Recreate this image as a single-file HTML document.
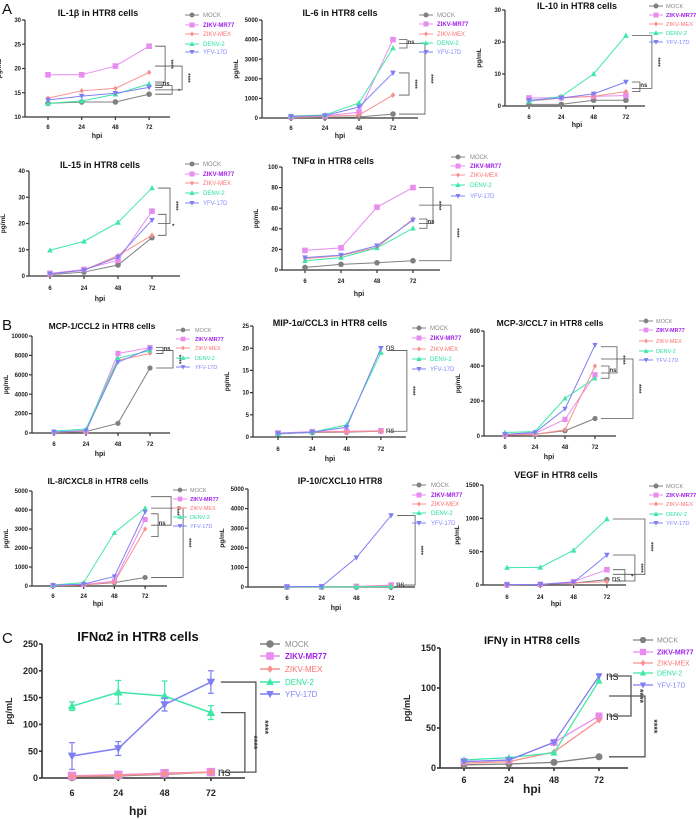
<!DOCTYPE html>
<html><head><meta charset="utf-8"><style>
html,body{margin:0;padding:0;background:#fff;}
svg{display:block;font-family:"Liberation Sans",sans-serif;}
</style></head><body>
<svg id="fig" width="696" height="819" viewBox="0 0 696 819" xmlns="http://www.w3.org/2000/svg">
<text x="2" y="14" font-size="15" fill="#111">A</text>
<text x="2" y="330" font-size="15" fill="#111">B</text>
<text x="2" y="643" font-size="15" fill="#111">C</text>
</svg>
<script>
const categories = ['6','24','48','72'];
const seriesNames = ['MOCK','ZIKV-MR77','ZIKV-MEX','DENV-2','YFV-17D'];
const il1b = [[12.8,13.1,13.1,14.7],[18.7,18.7,20.5,24.6],[13.9,15.4,15.9,19.2],[12.8,13.3,14.7,16.8],[13.5,14.3,14.9,16.1]];
const il6 = [[20,30,50,200],[60,100,300,4000],[40,80,150,1170],[100,150,765,3570],[80,120,560,2300]];
const il10 = [[0.5,0.5,1.8,1.8],[2.5,2.6,3.0,3.3],[1.5,2.5,3.0,4.5],[1.5,3.0,10,22],[1.8,2.5,3.8,7.5]];
const il15 = [[0.5,1.5,4.2,14.6],[1.0,2.5,6.0,24.7],[0.6,2.3,7.8,15.5],[9.8,13.2,20.4,33.5],[0.8,2.2,7.2,21.3]];
const tnf = [[2.5,5.5,7,9],[19,21.5,61,80],[11,14,22,49.5],[9,12,21.5,40.5],[12,14.5,23.5,48.5]];
const mcp1 = [[50,150,1000,6700],[100,200,8200,8800],[80,180,7500,8200],[200,400,7700,8500],[100,250,7300,8700]];
const mip1a = [[0.7,1.0,1.1,1.3],[0.9,1.2,1.3,1.4],[0.8,1.1,1.2,1.3],[0.7,1.1,2.7,19.0],[0.8,1.1,2.2,20.0]];
const mcp3 = [[5,10,30,100],[8,15,95,350],[5,10,35,400],[20,25,215,330],[10,20,155,520]];
const il8 = [[20,60,180,450],[30,80,250,3500],[20,60,200,3000],[50,180,2800,4100],[40,100,500,3900]];
const ip10 = [[0,0,0,0],[10,10,30,100],[5,5,20,50],[5,5,10,30],[10,30,1500,3650]];
const vegf = [[5,10,30,80],[5,10,50,230],[5,8,30,50],[260,265,520,990],[5,10,40,450]];
const ifna2 = [[2,4,7,11],[4,6,9,11],[3,5,8,11],[134,160,153,122],[41,55,137,179]];
const ifng = [[4,5,7,14],[8,10,32,65],[6,8,20,60],[10,13,19,109],[8,10,32,115]];
const ifna2Err = [[1,1,1,1],[1,1,1,1],[1,1,1,1],[8,22,28,13],[25,13,12,21]];

const lineColors = ['#808080','#e88cf0','#f89090','#3ee8a6','#7f7ff5'];
const textColors = ['#8a8a8a','#a020e8','#ff7070','#28e09a','#8585ff'];
const NS='http://www.w3.org/2000/svg';
const svg=document.getElementById('fig');
function mk(tag,attrs,parent){const e=document.createElementNS(NS,tag);for(const k in attrs)e.setAttribute(k,attrs[k]);(parent||svg).appendChild(e);return e;}

const panels=[
 {id:'il1b',title:'IL-1β in HTR8 cells',data:il1b,ax:25,yb:117,yt:20,min:10,max:30,ticks:[10,15,20,25,30],x6:48,step:33.7,axEnd:170,tx:98,ty:16,ts:9,tickY:127,hx:97,hy:135,mx:192,ltx:203,ly:[15,25,34,44,52],fs:6,ms:2.8,
  br:[[24.6,17.2,10,'****'],[16.8,16.1,7,'ns'],[16.5,14.7,17,'*'],[20.5,15.6,27,'****']]},
 {id:'il6',title:'IL-6 in HTR8 cells',data:il6,ax:262,yb:118,yt:20,min:0,max:5000,ticks:[0,1000,2000,3000,4000,5000],x6:291,step:34,axEnd:418,tx:340,ty:16,ts:9,tickY:128,hx:340,hy:135,mx:426,ltx:437,ly:[15,24,34,43,52],fs:6,ms:2.8,
  br:[[4000,3570,8,'ns'],[2300,1170,10,'****'],[3800,200,26,'****']]},
 {id:'il10',title:'IL-10 in HTR8 cells',data:il10,ax:505,yb:106,yt:10,min:0,max:30,ticks:[0,10,20,30],x6:529,step:32.3,axEnd:645,tx:577,ty:9,ts:9,tickY:117,hx:577,hy:124,mx:656,ltx:666,ly:[6,15,24,33,42],fs:5.8,ms:2.8,
  br:[[22,5.5,20,'****'],[7.5,4.5,8,'ns']]},
 {id:'il15',title:'IL-15 in HTR8 cells',data:il15,ax:29,yb:276,yt:171,min:0,max:40,ticks:[0,10,20,30,40],x6:50,step:34,axEnd:180,tx:100,ty:168,ts:9,tickY:288,hx:100,hy:298,mx:192,ltx:203,ly:[164,174,183,193,203],fs:6,ms:2.8,
  br:[[33.5,20,12,'****'],[23.5,15.5,8,'*']]},
 {id:'tnf',title:'TNFα in HTR8 cells',data:tnf,ax:282,yb:270,yt:167,min:0,max:100,ticks:[0,20,40,60,80,100],x6:305,step:36,axEnd:440,tx:333,ty:164,ts:9,tickY:281,hx:359,hy:293,mx:458,ltx:470,ly:[157,166,175,185,196],fs:6,ms:2.8,
  br:[[80,45,14,'****'],[49.5,40.5,8,'ns'],[63,9,32,'****']]},
 {id:'mcp1',title:'MCP-1/CCL2 in HTR8 cells',data:mcp1,ax:32,yb:433,yt:336,min:0,max:10000,ticks:[0,2000,4000,6000,8000,10000],x6:54,step:32,axEnd:170,tx:102,ty:329,ts:8.5,tickY:444,hx:100,hy:453,mx:183,ltx:195,ly:[330,339,348,358,367],fs:5.5,ms:2.6,
  br:[[8800,8200,7,'ns'],[8500,6700,17,'****']]},
 {id:'mip1a',title:'MIP-1α/CCL3 in HTR8 cells',data:mip1a,ax:253,yb:437,yt:326,min:0,max:25,ticks:[0,5,10,15,20,25],x6:278,step:34.3,axEnd:406,tx:330,ty:326,ts:9,tickY:449,hx:330,hy:458,mx:419,ltx:430,ly:[328,338,349,359,369],fs:6,ms:2.8,
  br:[[19.5,1.3,20,'****']],ns:[[20,'ns'],[1.3,'ns']]},
 {id:'mcp3',title:'MCP-3/CCL7 in HTR8 cells',data:mcp3,ax:484,yb:436,yt:331,min:0,max:600,ticks:[0,200,400,600],x6:505,step:30,axEnd:616,tx:550,ty:326,ts:8.5,tickY:447,hx:549,hy:456,mx:646,ltx:656,ly:[321,330,341,351,360],fs:5.5,ms:2.6,
  br:[[510,360,16,'****'],[400,330,8,'ns'],[440,100,32,'****']]},
 {id:'il8',title:'IL-8/CXCL8 in HTR8 cells',data:il8,ax:32,yb:586,yt:491,min:0,max:5000,ticks:[0,1000,2000,3000,4000,5000],x6:53,step:30.7,axEnd:167,tx:98,ty:484,ts:8.5,tickY:596,hx:98,hy:603,mx:180,ltx:190,ly:[490,499,508,517,526],fs:5.5,ms:2.6,
  br:[[4700,3200,20,'****'],[3800,2600,7,'ns'],[4100,450,32,'****']]},
 {id:'ip10',title:'IP-10/CXCL10 HTR8',data:ip10,ax:248,yb:587,yt:489,min:0,max:5000,ticks:[0,1000,2000,3000,4000,5000],x6:287,step:34.7,axEnd:415,tx:340,ty:484,ts:9,tickY:598,hx:336,hy:607,mx:419,ltx:431,ly:[485,495,504,513,523],fs:6,ms:2.8,
  br:[[3650,100,18,'****']],ns:[[100,'ns']]},
 {id:'vegf',title:'VEGF in HTR8 cells',data:vegf,ax:483,yb:585,yt:485,min:0,max:1500,ticks:[0,500,1000,1500],x6:507,step:33.3,axEnd:626,tx:556,ty:478,ts:9,tickY:597,hx:556,hy:603,mx:656,ltx:666,ly:[486,495,504,514,523],fs:5.8,ms:2.8,
  br:[[990,160,32,'****'],[450,60,22,'****'],[230,60,12,'*']],ns:[[80,'ns']]},
 {id:'ifna2',title:'IFNα2 in HTR8 cells',data:ifna2,err:ifna2Err,ax:42,yb:778,yt:644,min:0,max:250,ticks:[0,50,100,150,200,250],x6:72,step:46.3,axEnd:245,tx:138,ty:641,ts:13,tickY:793,hx:138,hy:812,mx:270,ltx:285,ly:[644,656,669,682,694],fs:8,ms:4.2,lw:1.5,big:true,
  br:[[179,11,37,'****'],[122,11,26,'****']],ns:[[11,'ns']]},
 {id:'ifng',title:'IFNγ in HTR8 cells',data:ifng,ax:440,yb:768,yt:648,min:0,max:150,ticks:[0,50,100,150],x6:464,step:45,axEnd:628,tx:532,ty:644,ts:11,tickY:780,hx:532,hy:790,mx:643,ltx:657,ly:[640,652,663,673,685],fs:7,ms:3.5,lw:1.3,big:true,
  br:[[115,65,24,'****'],[90,14,38,'****']],ns:[[115,'ns'],[65,'ns']]}
];

function marker(g,k,x,y,s,c){
  let e;
  if(k===0) e=mk('circle',{cx:x,cy:y,r:s,fill:c},g);
  else if(k===1) e=mk('rect',{x:x-s,y:y-s,width:2*s,height:2*s,fill:c},g);
  else if(k===2) e=mk('polygon',{points:`${x},${y-s} ${x+s*0.8},${y} ${x},${y+s} ${x-s*0.8},${y}`,fill:c},g);
  else if(k===3) e=mk('polygon',{points:`${x},${y-s*1.1} ${x+s},${y+s*0.8} ${x-s},${y+s*0.8}`,fill:c},g);
  else e=mk('polygon',{points:`${x},${y+s*1.1} ${x+s},${y-s*0.8} ${x-s},${y-s*0.8}`,fill:c},g);
  
  
}

panels.forEach(p=>{
  const g=mk('g',{});
  
  
  const ys=v=>p.yb-(v-p.min)/(p.max-p.min)*(p.yb-p.yt);
  const xs=i=>p.x6+i*p.step;
  const tf=p.big?9:6;
  const t=mk('text',{x:p.tx,y:p.ty,'font-size':p.ts,'font-weight':'bold','text-anchor':'middle',fill:'#111'},g);
  t.textContent=p.title;
  
  
  const axw=p.big?1.6:1.2;
  const ya=mk('line',{x1:p.ax,y1:p.yt,x2:p.ax,y2:p.yb,stroke:'#333','stroke-width':axw},g);
  
  
  const xa=mk('line',{x1:p.ax,y1:p.yb,x2:p.axEnd,y2:p.yb,stroke:'#333','stroke-width':axw},g);
  
  
  p.ticks.forEach(v=>{
    const y=ys(v);
    mk('line',{x1:p.ax-3,y1:y,x2:p.ax,y2:y,stroke:'#333','stroke-width':axw},g);
    const tl=mk('text',{x:p.ax-4,y:y+tf*0.35,'font-size':tf,'font-weight':'bold','text-anchor':'end',fill:'#222'},g);
    tl.textContent=v;
    
    
  });
  categories.forEach((c,i)=>{
    mk('line',{x1:xs(i),y1:p.yb,x2:xs(i),y2:p.yb+3,stroke:'#333','stroke-width':axw},g);
    const tl=mk('text',{x:xs(i),y:p.tickY+tf*0.35,'font-size':tf,'font-weight':'bold','text-anchor':'middle',fill:'#222'},g);
    tl.textContent=c;
    
    
  });
  const hx=mk('text',{x:p.hx,y:p.hy+3,'font-size':p.big?12:7,'font-weight':'bold','text-anchor':'middle',fill:'#222'},g);
  hx.textContent='hpi';
  
  
  const ymid=(p.yt+p.yb)/2, ylx=p.ax-(p.big?30:24);
  const yl=mk('text',{x:ylx,y:ymid,'font-size':p.big?9:6.5,'font-weight':'bold','text-anchor':'middle',fill:'#222',transform:`rotate(-90 ${ylx} ${ymid})`},g);
  yl.textContent='pg/mL';
  
  
  p.data.forEach((vals,k)=>{
    const sg=mk('g',{},g);
    
    
    const pts=vals.map((v,i)=>xs(i)+','+ys(v)).join(' ');
    mk('polyline',{points:pts,fill:'none',stroke:lineColors[k],'stroke-width':p.lw||1},sg);
    vals.forEach((v,i)=>{
      if(p.err){const e=p.err[k][i];
        mk('line',{x1:xs(i),y1:ys(v-e),x2:xs(i),y2:ys(v+e),stroke:lineColors[k],'stroke-width':1.2},sg);
        mk('line',{x1:xs(i)-3,y1:ys(v+e),x2:xs(i)+3,y2:ys(v+e),stroke:lineColors[k],'stroke-width':1.2},sg);
        mk('line',{x1:xs(i)-3,y1:ys(v-e),x2:xs(i)+3,y2:ys(v-e),stroke:lineColors[k],'stroke-width':1.2},sg);}
      marker(sg,k,xs(i),ys(v),p.ms,lineColors[k]);
    });
  });
  const x72=xs(3);
  (p.br||[]).forEach(b=>{
    const y1=ys(b[0]),y2=ys(b[1]),xo=x72+(p.big?8:6)+b[2];
    const bp=mk('polyline',{points:`${x72+(p.big?10:6)},${y1} ${xo},${y1} ${xo},${y2} ${x72+(p.big?10:6)},${y2}`,fill:'none',stroke:'#555','stroke-width':p.big?1.3:0.8},g);
    
    
    const my=(y1+y2)/2, lx=xo+(p.big?6:4);
    const lt=mk('text',{x:lx,y:my,'font-size':p.big?9:6,'font-weight':'bold','text-anchor':'middle',fill:'#333',transform:b[3]==='ns'?'':`rotate(90 ${lx} ${my})`},g);
    lt.textContent=b[3];
    
    
  });
  (p.ns||[]).forEach(n=>{
    const lt=mk('text',{x:x72+(p.big?7:5),y:ys(n[0])+(p.big?4:2),'font-size':p.big?12:8,fill:'#333'},g);
    lt.textContent=n[1];
    
    
  });
  seriesNames.forEach((n,k)=>{
    const lg=mk('g',{},g);
    
    
    const y=p.ly[k], hw=p.big?10:7;
    mk('line',{x1:p.mx-hw,y1:y,x2:p.mx+hw,y2:y,stroke:lineColors[k],'stroke-width':p.lw||1},lg);
    marker(lg,k,p.mx,y,p.ms*0.9,lineColors[k]);
    const lt=mk('text',{x:p.ltx,y:y+p.fs*0.35,'font-size':p.fs,fill:textColors[k],'font-weight':k===1?'bold':'normal'},lg);
    lt.textContent=n;
  });
});
</script>
</body></html>
